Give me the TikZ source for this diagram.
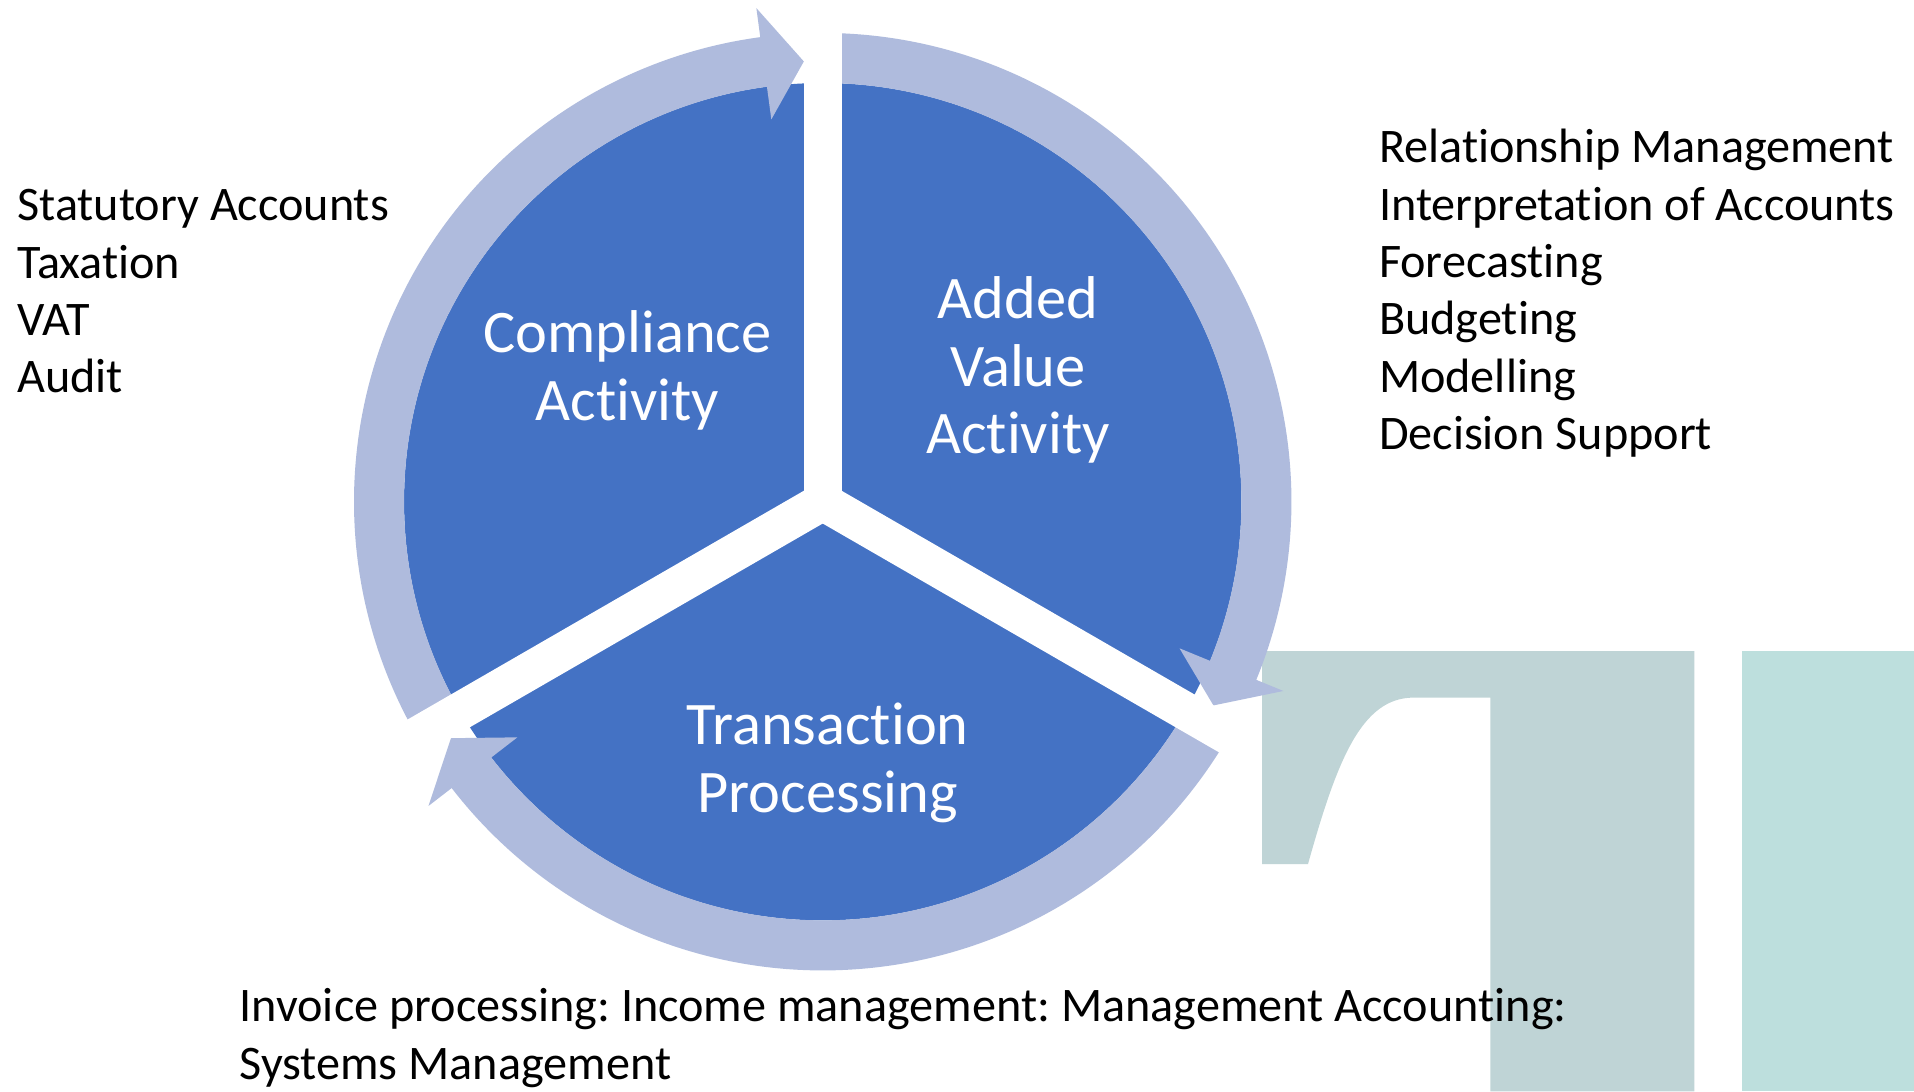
\documentclass[tikz,border=0pt]{standalone}
\usepackage{fontspec}
\setmainfont[Ligatures=NoCommon]{Carlito}
\frenchspacing
\definecolor{segblue}{RGB}{68,114,196}
\definecolor{ringblue}{RGB}{175,187,221}
\definecolor{tealA}{RGB}{191,212,214}
\definecolor{tealB}{RGB}{189,223,221}
\tikzset{
  segfill/.style={fill=segblue},
  ringfill/.style={fill=ringblue},
  gapband/.style={draw=white, line width=31pt},
  seglabel/.style={text=white, inner sep=0pt, anchor=base, font=\fontsize{49.5}{55}\selectfont},
  listitem/.style={text=black, inner sep=0pt, anchor=base west, font=\fontsize{39.5}{47}\selectfont}
}
\begin{document}
\begin{tikzpicture}[x=1pt,y=1pt]
\useasboundingbox (0,0) rectangle (1568,894);
\fill[white] (0,0) rectangle (1568,894);

% background letter shapes
\fill[tealA] (1034,360.5) -- (1388,360.5) -- (1388,0) -- (1221,0) -- (1221,322.5) -- (1158,322.5)
  .. controls (1115,322.5) and (1095,270) .. (1071.5,186) -- (1034,186) -- cycle;
\fill[tealB] (1427,360.5) rectangle (1568,0);

% cycle centred on the pie
\begin{scope}[shift={(674,483)}]
  % pie disc
  \fill[segfill] (0,0) circle[radius=343];
  % circular arrows: start angle, base angle, tip angle
  \foreach \s/\b/\t in {210/97.66/92.46, 90/-22.34/-27.54, -30/-142.34/-147.54}{
    \fill[ringfill] (\s:384) arc[start angle=\s, end angle=\b, radius=384]
      -- (\b:408) -- (\t:361) -- (\b:316) -- (\b:343)
      arc[start angle=\b, end angle=\s, radius=343] -- cycle;
  }
  % white gaps between the segments
  \foreach \a in {90,210,330}{
    \draw[gapband] (0,0) -- (\a:386);
  }
\end{scope}

% segment labels
\node[seglabel] (c1) at (514,605) {Compliance};
\node[seglabel] (c2) at (514,549.5) {Activity};
\node[seglabel] (v1) at (834,633) {Added};
\node[seglabel] (v2) at (834,577.5) {Value};
\node[seglabel] (v3) at (834,522.5) {Activity};
\node[seglabel] (t1) at (678,283.7) {Transaction};
\node[seglabel] (t2) at (678,228.3) {Processing};

% compliance list
\node[listitem] (l1) at (14,713.2) {Statutory Accounts};
\node[listitem] (l2) at (14,666.2) {Taxation};
\node[listitem] (l3) at (14,619.2) {VAT};
\node[listitem] (l4) at (14,572.2) {Audit};

% added value list
\node[listitem] (r1) at (1129.5,760.7) {Relationship Management};
\node[listitem] (r2) at (1129.5,713.7) {Interpretation of Accounts};
\node[listitem] (r3) at (1129.5,666.7) {Forecasting};
\node[listitem] (r4) at (1129.5,619.7) {Budgeting};
\node[listitem] (r5) at (1129.5,572.7) {Modelling};
\node[listitem] (r6) at (1129.5,525.7) {Decision Support};

% transaction list
\node[listitem] (b1) at (196,57) {Invoice processing: Income management: Management Accounting:};
\node[listitem] (b2) at (196,10) {Systems Management};
\end{tikzpicture}
\end{document}
